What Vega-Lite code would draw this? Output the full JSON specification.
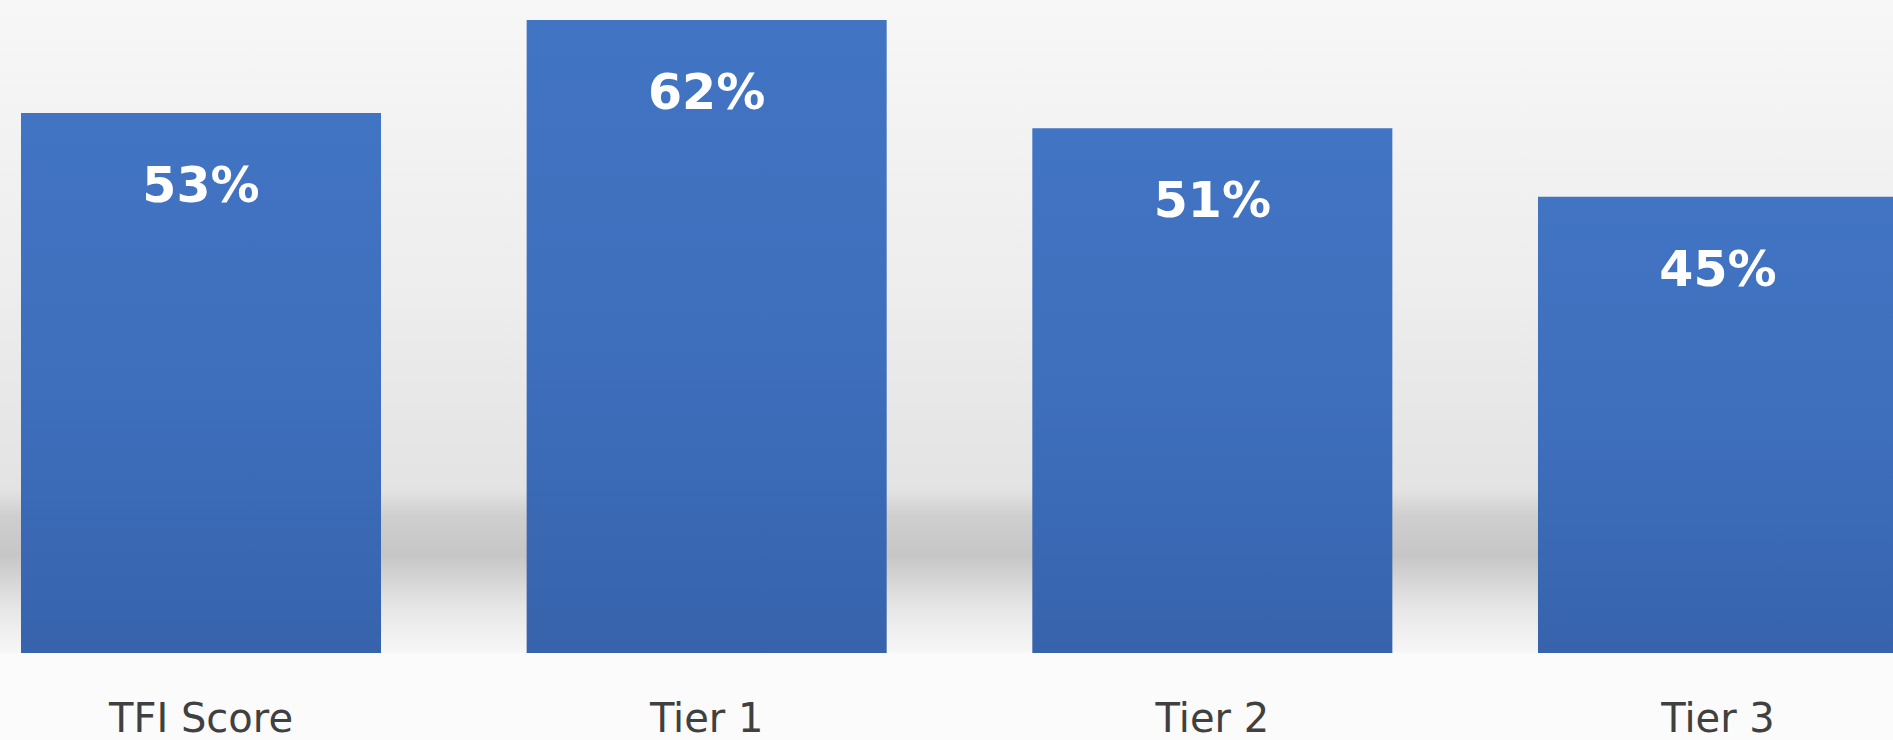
{
  "$schema": "https://vega.github.io/schema/vega-lite/v6.json",
  "width": 1893,
  "height": 653,
  "autosize": "none",
  "padding": {"left": 0, "top": 0, "right": 0, "bottom": 87},
  "background": "#fbfbfb",
  "config": {
    "view": {
      "stroke": null,
      "fill": {
        "gradient": "linear",
        "x1": 0, "y1": 0, "x2": 0, "y2": 1,
        "stops": [
          {"offset": 0, "color": "#f7f7f7"},
          {"offset": 0.45, "color": "#ededed"},
          {"offset": 0.75, "color": "#e3e3e3"},
          {"offset": 0.79, "color": "#cfcfcf"},
          {"offset": 0.85, "color": "#c6c6c6"},
          {"offset": 0.93, "color": "#e6e6e6"},
          {"offset": 1, "color": "#f7f7f7"}
        ]
      }
    }
  },
  "data": {
    "values": [
      {"category": "TFI Score", "value": 0.529},
      {"category": "Tier 1", "value": 0.62},
      {"category": "Tier 2", "value": 0.514},
      {"category": "Tier 3", "value": 0.447}
    ]
  },
  "encoding": {
    "x": {
      "field": "category",
      "type": "nominal",
      "sort": null,
      "scale": {"range": [0, 1919], "paddingInner": 0.288, "paddingOuter": 0.0415},
      "axis": {
        "title": null,
        "labelAngle": 0,
        "ticks": false,
        "domain": false,
        "labelLimit": 0,
        "labelFont": "DejaVu Sans",
        "labelFontSize": 40,
        "labelColor": "#404040",
        "labelPadding": 46
      }
    },
    "y": {
      "field": "value",
      "type": "quantitative",
      "scale": {"domain": [0, 0.6396], "nice": false, "zero": true},
      "axis": null
    }
  },
  "layer": [
    {
      "mark": {
        "type": "bar",
        "fill": {
          "gradient": "linear",
          "x1": 0, "y1": 0, "x2": 0, "y2": 1,
          "stops": [
            {"offset": 0, "color": "#4174c3"},
            {"offset": 0.5, "color": "#3e6fbd"},
            {"offset": 1, "color": "#3763ac"}
          ]
        }
      }
    },
    {
      "mark": {
        "type": "text",
        "baseline": "alphabetic",
        "align": "center",
        "dy": 89,
        "font": "DejaVu Sans",
        "fontWeight": "bold",
        "fontSize": 49,
        "color": "#ffffff"
      },
      "encoding": {
        "text": {"field": "value", "type": "quantitative", "format": ".0%"}
      }
    }
  ]
}
